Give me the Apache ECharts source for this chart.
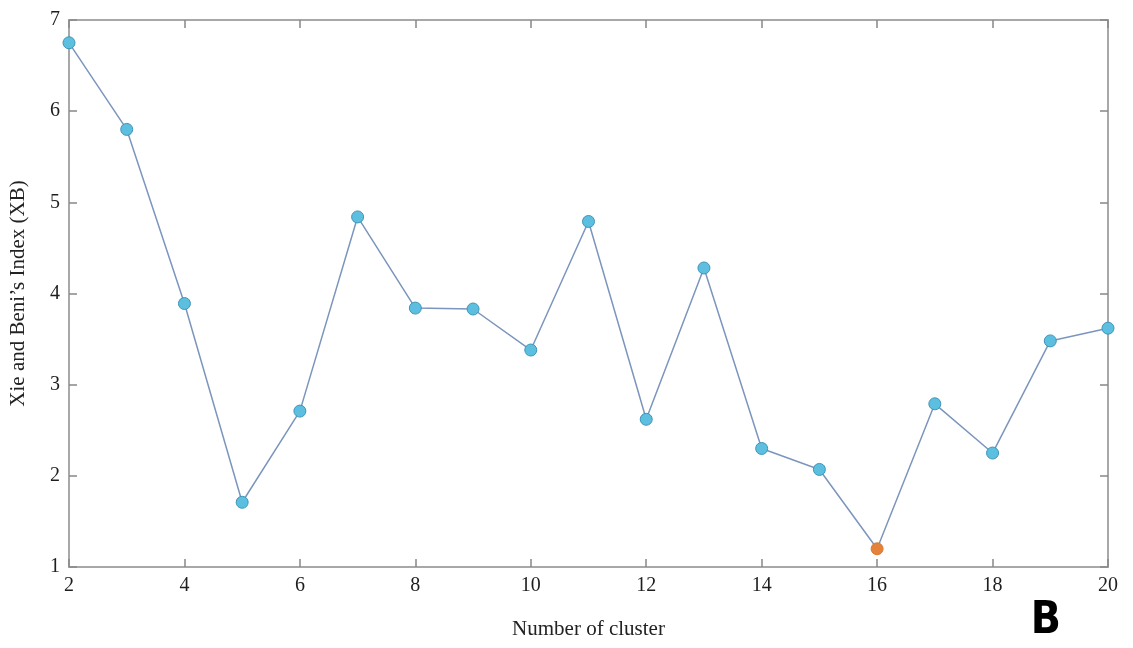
<!DOCTYPE html>
<html>
<head>
<meta charset="utf-8">
<script src="https://cdn.jsdelivr.net/npm/echarts@6/dist/echarts.min.js"></script>
<style>
  html, body { margin: 0; padding: 0; background: #fff; }
  #chart-container { width: 1133px; height: 648px; }
</style>
</head>
<body>
<div id="chart-container"></div>
<script>
let clusters = [2, 3, 4, 5, 6, 7, 8, 9, 10, 11, 12, 13, 14, 15, 16, 17, 18, 19, 20];
let xbIndex = [6.75, 5.80, 3.89, 1.71, 2.71, 4.84, 3.84, 3.83, 3.38, 4.79, 2.62, 4.28, 2.30, 2.07, 1.20, 2.79, 2.25, 3.48, 3.62];
let xTicks = [2, 4, 6, 8, 10, 12, 14, 16, 18, 20];

function init() {
  let serif = '"Liberation Serif", "DejaVu Serif", serif';
  let axisGray = '#a8a8a8';
  let minIdx = xbIndex.indexOf(Math.min(...xbIndex));

  let points = clusters.map((c, i) => {
    let item = { value: [c, xbIndex[i]] };
    if (i === minIdx) {
      item.itemStyle = { color: '#e4813a', borderColor: '#d97a30' };
    }
    return item;
  });

  function boxAxis(base, extra) {
    return Object.assign({
      type: 'value',
      axisLine: { show: true, lineStyle: { color: axisGray, width: 2 } },
      axisTick: { show: true, inside: true, length: 8, lineStyle: { color: '#888', width: 1.5 } },
      splitLine: { show: false }
    }, base, extra);
  }

  let option = {
    animation: false,
    grid: { left: 67, right: 25, top: 20, bottom: 81 },
    xAxis: [
      boxAxis({ min: 2, max: 20, interval: 2 }, {
        position: 'bottom',
        name: 'Number of cluster',
        nameLocation: 'middle',
        nameGap: 52,
        nameTextStyle: { fontFamily: serif, fontSize: 21, color: '#222' },
        axisLabel: { fontFamily: serif, fontSize: 20, color: '#1e1e1e', margin: 9 }
      }),
      boxAxis({ min: 2, max: 20, interval: 2 }, {
        position: 'top',
        axisLabel: { show: false }
      })
    ],
    yAxis: [
      boxAxis({ min: 1, max: 7, interval: 1 }, {
        position: 'left',
        name: 'Xie and Beni\u2019s Index (XB)',
        nameLocation: 'middle',
        nameGap: 40,
        nameTextStyle: { fontFamily: serif, fontSize: 21, color: '#222' },
        axisLabel: { fontFamily: serif, fontSize: 20, color: '#1e1e1e', margin: 9 }
      }),
      boxAxis({ min: 1, max: 7, interval: 1 }, {
        position: 'right',
        axisLabel: { show: false }
      })
    ],
    graphic: [{
      type: 'text',
      right: 72,
      bottom: 4,
      style: { text: 'B', fontFamily: '"DejaVu Sans Condensed", "DejaVu Sans", sans-serif', fontSize: 44,
        fontWeight: 'bold', fill: '#000' }
    }],
    series: [{
      type: 'line',
      data: points,
      symbol: 'circle',
      symbolSize: 12,
      lineStyle: { color: '#7b95bd', width: 1.5 },
      itemStyle: { color: '#5dbfe0', borderColor: '#3d95b8', borderWidth: 1 }
    }]
  };

  let myChart = echarts.init(document.getElementById('chart-container'));
  myChart.setOption(option);
}
init();
</script>
</body>
</html>
